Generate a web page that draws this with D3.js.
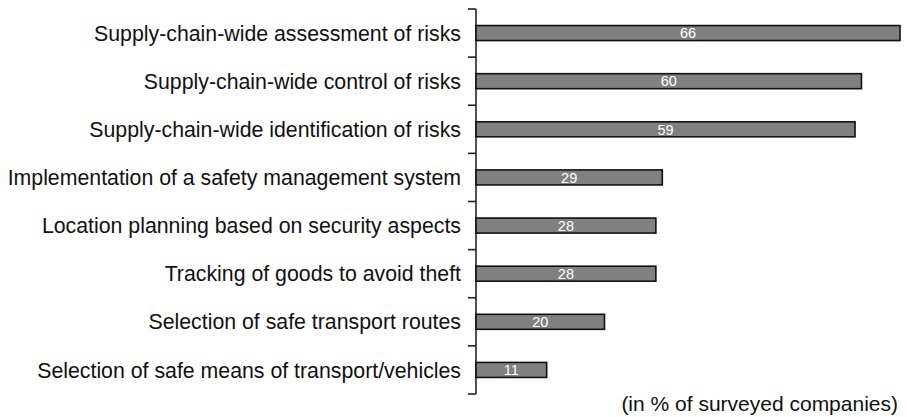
<!DOCTYPE html>
<html>
<head>
<meta charset="utf-8">
<script src="https://cdn.jsdelivr.net/npm/d3@7"></script>
<style>
  body { margin: 0; background: #fff; }
  svg text { font-family: "Liberation Sans", Arial, Helvetica, sans-serif; }
</style>
</head>
<body>
<figure id="bar" style="margin:0"></figure>
<script>
// measures, top to bottom
const categories = [
  "Supply-chain-wide assessment of risks",
  "Supply-chain-wide control of risks",
  "Supply-chain-wide identification of risks",
  "Implementation of a safety management system",
  "Location planning based on security aspects",
  "Tracking of goods to avoid theft",
  "Selection of safe transport routes",
  "Selection of safe means of transport/vehicles"
];
const shares = [66, 60, 59, 29, 28, 28, 20, 11];
const unitNote = "(in % of surveyed companies)";

const width = 907;
const height = 417;
const plotLeft = 476;
const plotRight = 900;
const plotTop = 9;
const plotBottom = 394;

const svg = d3.select("figure#bar")
  .append("svg")
  .attr("width", width)
  .attr("height", height);

const y = d3.scaleBand()
  .domain(categories)
  .range([plotTop, plotBottom]);

const x = d3.scaleLinear()
  .domain([0, d3.max(shares)])
  .range([plotLeft, plotRight]);

// axis: line with tick marks on band borders
const edges = categories.map(c => y(c)).concat([plotBottom]);
const axis = svg.append("g").attr("stroke", "#222").attr("stroke-width", 1.6);
axis.append("line")
  .attr("x1", plotLeft).attr("x2", plotLeft)
  .attr("y1", plotTop).attr("y2", plotBottom);
axis.selectAll("line.tick")
  .data(edges)
  .enter()
  .append("line")
  .attr("class", "tick")
  .attr("x1", plotLeft - 8).attr("x2", plotLeft)
  .attr("y1", d => d).attr("y2", d => d);

// category labels
svg.selectAll("text.cat")
  .data(categories)
  .enter()
  .append("text")
  .attr("class", "cat")
  .attr("x", plotLeft - 15)
  .attr("y", d => y(d) + y.bandwidth() / 2)
  .attr("dy", "0.36em")
  .attr("text-anchor", "end")
  .attr("font-size", 21.3)
  .attr("fill", "#111")
  .text(d => d);

const barH = 15;

svg.selectAll("rect.bar")
  .data(shares)
  .enter()
  .append("rect")
  .attr("class", "bar")
  .attr("x", plotLeft)
  .attr("y", (d, i) => y(categories[i]) + y.bandwidth() / 2 - barH / 2)
  .attr("width", d => x(d) - plotLeft)
  .attr("height", barH)
  .attr("fill", "#808080")
  .attr("stroke", "#111")
  .attr("stroke-width", 1.6);

svg.selectAll("text.val")
  .data(shares)
  .enter()
  .append("text")
  .attr("class", "val")
  .attr("x", d => (plotLeft + x(d)) / 2)
  .attr("y", (d, i) => y(categories[i]) + y.bandwidth() / 2)
  .attr("dy", "0.36em")
  .attr("text-anchor", "middle")
  .attr("font-size", 14.5)
  .attr("fill", "#fff")
  .text(d => d);

svg.append("text")
  .attr("x", 898)
  .attr("y", 411)
  .attr("text-anchor", "end")
  .attr("font-size", 21)
  .attr("fill", "#111")
  .text(unitNote);
</script>
</body>
</html>
